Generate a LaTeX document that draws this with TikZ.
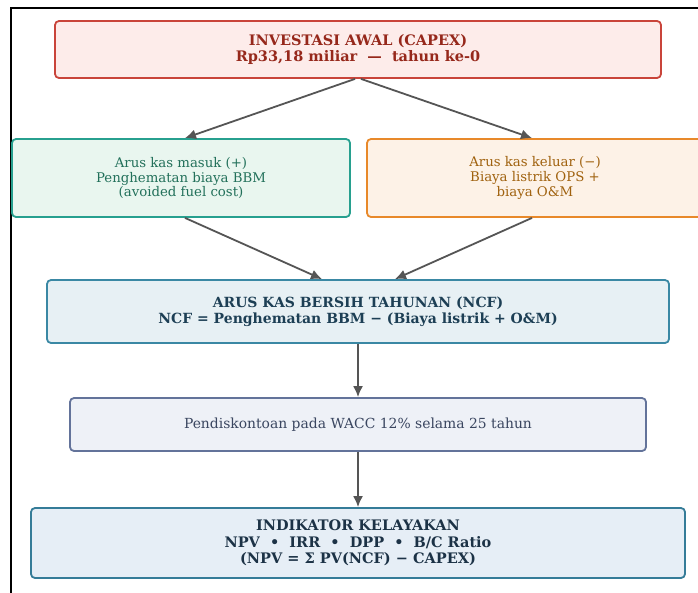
\documentclass[tikz,border=0pt]{standalone}
\usepackage{fontspec}
\setmainfont{DejaVu Serif}
\usepackage{tikz}
\usetikzlibrary{arrows.meta,calc}

\definecolor{capexfill}{HTML}{FDECEA}
\definecolor{capexline}{HTML}{C9443A}
\definecolor{capextext}{HTML}{96281B}
\definecolor{infill}{HTML}{E9F6EF}
\definecolor{inline}{HTML}{27A08F}
\definecolor{intext}{HTML}{22705A}
\definecolor{outfill}{HTML}{FDF2E7}
\definecolor{outline}{HTML}{E8892A}
\definecolor{outtext}{HTML}{A0620F}
\definecolor{ncffill}{HTML}{E7F0F4}
\definecolor{ncfline}{HTML}{3A88A4}
\definecolor{ncftext}{HTML}{1D3F55}
\definecolor{discfill}{HTML}{EEF1F7}
\definecolor{discline}{HTML}{63739A}
\definecolor{disctext}{HTML}{3A4660}
\definecolor{indfill}{HTML}{E6EEF6}
\definecolor{indline}{HTML}{357C98}
\definecolor{indtext}{HTML}{1C3246}
\definecolor{arrowgray}{HTML}{555555}

\begin{document}
\begin{tikzpicture}[x=1pt,y=-1pt,
  box/.style={draw, rounded corners=4pt, line width=1.8pt, align=center, inner sep=0pt},
  boldtxt/.style={font=\fontsize{14.5}{16.5}\selectfont\bfseries},
  plaintxt/.style={font=\fontsize{13.3}{14.6}\selectfont},
  flow/.style={draw=arrowgray, line width=1.8pt, -{Latex[length=11pt,width=10pt]}}]

\clip (0,0) rectangle (698,592);
\fill[white] (0,0) rectangle (698,592);
%frame
\draw[line width=1.8pt] (11,593) -- (11,8) -- (700,8);

%boxes
\node[box, boldtxt, fill=capexfill, draw=capexline, text=capextext,
  minimum width=606pt, minimum height=57pt] (capex) at (358,49.5)
  {INVESTASI AWAL (CAPEX)\\Rp33,18 miliar \ — \ tahun ke-0};
\node[box, plaintxt, fill=infill, draw=inline, text=intext,
  minimum width=338pt, minimum height=78pt] (masuk) at (181,178)
  {Arus kas masuk (+)\\Penghematan biaya BBM\\(avoided fuel cost)};
\node[box, plaintxt, fill=outfill, draw=outline, text=outtext,
  minimum width=336pt, minimum height=78pt] (keluar) at (535,178)
  {Arus kas keluar (−)\\Biaya listrik OPS +\\biaya O\&M};
\node[box, boldtxt, font=\fontsize{14}{16.5}\selectfont\bfseries, fill=ncffill, draw=ncfline, text=ncftext,
  minimum width=622pt, minimum height=63pt] (ncf) at (358,311.5)
  {ARUS KAS BERSIH TAHUNAN (NCF)\\NCF = Penghematan BBM − (Biaya listrik + O\&M)};
\node[box, plaintxt, font=\fontsize{13.9}{14.6}\selectfont, fill=discfill, draw=discline, text=disctext,
  minimum width=576pt, minimum height=53pt] (disc) at (358,424.5)
  {Pendiskontoan pada WACC 12\% selama 25 tahun};
\node[box, boldtxt, fill=indfill, draw=indline, text=indtext,
  minimum width=654pt, minimum height=70pt] (ind) at (358,543)
  {INDIKATOR KELAYAKAN\\NPV \ • \ IRR \ • \ DPP \ • \ B/C Ratio\\(NPV = Σ PV(NCF) − CAPEX)};

%arrows
\draw[flow] ($(capex.south)+(-3,0)$) -- ($(masuk.north)+(4,0)$);
\draw[flow] ($(capex.south)+(3,0)$) -- ($(keluar.north)+(-3,0)$);
\draw[flow] ($(masuk.south)+(4,0)$) -- ($(ncf.north)+(-36,0)$);
\draw[flow] ($(keluar.south)+(-3,0)$) -- ($(ncf.north)+(37,0)$);
\draw[flow] (ncf) -- (disc);
\draw[flow] (disc) -- (ind);

\end{tikzpicture}
\end{document}
